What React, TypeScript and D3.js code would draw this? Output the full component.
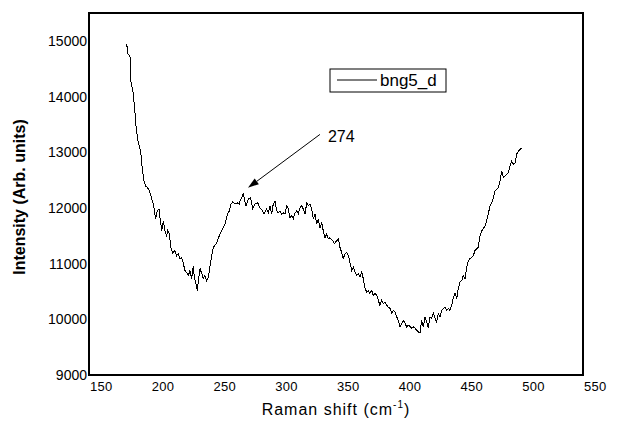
import React from 'react'
import * as d3 from 'd3'

// Raman spectrum
const ramanShift = [
  180.5, 181.6, 183.2, 184.0, 185.6, 187.0, 188.1, 189.7, 191.1, 191.9, 192.9, 194.5, 195.9, 197.0, 199.0,
  202.1, 204.0, 205.3, 206.7, 207.5, 208.9, 210.2, 211.5, 212.9, 213.7, 215.0, 216.4, 217.8, 219.6, 221.0,
  222.3, 223.7, 225.1, 226.4, 227.7, 229.1, 230.4, 231.8, 233.1, 234.5, 235.3, 236.6, 237.7, 238.8, 239.9,
  241.3, 242.6, 243.9, 245.3, 246.6, 248.0, 249.4, 250.6, 253.4, 256.1, 258.3, 260.1, 262.3, 263.6, 265.0,
  266.4, 268.2, 270.1, 271.7,
  272.3, 274.9, 277.1, 279.0, 280.9, 282.5, 284.4, 286.6, 288.5, 290.6, 291.7, 293.9, 295.2, 296.6, 297.9,
  299.2, 300.6, 302.0, 303.3, 304.7, 306.0, 307.3, 308.7, 310.1, 311.4, 312.7, 314.1, 315.4, 316.8, 318.2,
  319.5, 320.8, 322.2, 323.5, 324.9, 326.3, 327.6, 328.9, 330.3, 331.6, 333.0, 334.4, 335.7, 337.0, 338.4,
  339.7, 341.1, 342.5, 343.8, 345.1,
  347.3, 348.6, 350.6, 351.9, 353.2, 354.6, 355.9, 357.3, 358.7, 360.0, 361.3, 362.7, 364.0, 365.4, 366.8,
  368.1, 369.4, 370.8, 372.1, 373.5, 374.9, 376.2, 377.5, 378.9, 380.2, 381.6, 383.0, 384.3, 385.6, 387.0,
  388.3, 389.7, 391.1, 392.3, 393.7, 395.1, 396.4, 397.8, 399.2, 400.4, 401.8, 403.2, 404.5, 405.9, 407.2,
  408.5, 409.9, 411.3, 412.6, 414.0, 415.3, 416.6, 418.0,
  419.4, 420.7, 422.1, 423.4, 424.7, 426.1, 427.5, 428.8, 430.2, 431.5, 432.8, 434.2, 435.6, 436.9, 438.3,
  439.6, 440.9, 442.3, 443.7, 445.0, 446.4, 447.8, 449.0, 450.4, 451.8, 453.1, 454.5, 455.9, 457.1, 458.5,
  459.9, 461.2, 462.5, 463.9, 465.2, 466.6, 468.0, 469.3, 470.6, 472.0, 473.3, 474.7, 476.1, 477.4, 478.7,
  480.1, 481.4, 482.8, 484.2, 485.5, 486.8, 488.2, 489.5, 490.9, 492.3, 493.6, 494.9, 496.3, 497.6, 499.0,
  500.4,
]

const intensity = [
  14941, 14768, 14714, 14268, 14089, 13768, 13464, 13196, 13071, 13018, 12750, 12482, 12393, 12375, 12304,
  12066, 11804, 11946, 11982, 11821, 11589, 11768, 11589, 11500, 11589, 11536, 11286, 11196, 11232, 11143,
  11179, 11089, 11107, 11000, 10875, 10839, 10786, 10875, 10732, 10964, 10750, 10643, 10518, 10732, 10911,
  10821, 10732, 10786, 10696, 10750, 10964, 11143, 11286, 11375, 11536, 11625, 11714, 11893, 11946, 12071,
  12107, 12071, 12089, 12071,
  12125, 12250, 12036, 12161, 12179, 11982, 12071, 12089, 12000, 11946, 11893, 11982, 11911, 12036, 11893,
  12071, 12125, 11946, 11911, 11946, 11893, 11911, 11893, 12036, 11982, 11821, 11857, 11804, 11911, 11946,
  11893, 12000, 12036, 11982, 11893, 12089, 12036, 12071, 11982, 11804, 11893, 11714, 11804, 11643, 11732,
  11589, 11464, 11536, 11446, 11464,
  11411, 11357, 11411, 11446, 11291, 11202, 11089, 11179, 11202, 11143, 11023, 10875, 10934, 10845, 10786,
  10821, 10755, 10845, 10732, 10554, 10488, 10518, 10464, 10518, 10429, 10464, 10429, 10339, 10250, 10339,
  10286, 10309, 10250, 10220, 10196, 10107, 10161, 10130, 10041, 9982, 9863, 9929, 9982, 9929, 9863,
  9893, 9875, 9839, 9863, 9839, 9804, 9773, 9755,
  9982, 9863, 10041, 9952, 9839, 10041, 10018, 10107, 10018, 9952, 10107, 10041, 10161, 10196, 10220,
  10161, 10196, 10161, 10250, 10398, 10464, 10375, 10554, 10666, 10696, 10786, 10732, 10934, 11054, 11089,
  11112, 11143, 11232, 11268, 11291, 11500, 11589, 11625, 11679, 11768, 11893, 12036, 12095, 12184, 12304,
  12339, 12363, 12482, 12661, 12541, 12571, 12607, 12630, 12750, 12839, 12786, 12809, 12964, 13018, 13054,
  13071,
]

const xTicks = [150, 200, 250, 300, 350, 400, 450, 500, 550]
const yTicks = [9000, 10000, 11000, 12000, 13000, 14000, 15000]

const seriesName = 'bng5_d'
const peakLabel = '274'
const arrowFrom = [337.0, 13320]
const arrowTo = [278.7, 12360]
const peakLabelAt = [343.5, 13180]

const width = 617
const height = 424
const margin = { left: 89, right: 34, top: 13, bottom: 49 }
const font = 'Arial, "Liberation Sans", sans-serif'

export default function App() {
  const x = d3.scaleLinear().domain([150, 550]).range([margin.left, width - margin.right])
  const y = d3.scaleLinear().domain([9000, 15500]).range([height - margin.bottom, margin.top])

  const points: [number, number][] = ramanShift.map((v, i) => [v, intensity[i]])
  const line = d3.line<[number, number]>()
    .x(d => x(d[0]))
    .y(d => y(d[1]))

  const x0 = x(150)
  const x1 = x(550)
  const y0 = y(9000)
  const y1 = y(15500)

  // arrow from the label down to the peak
  const ax1 = x(arrowFrom[0]), ay1 = y(arrowFrom[1])
  const ax2 = x(arrowTo[0]), ay2 = y(arrowTo[1])
  const ang = Math.atan2(ay2 - ay1, ax2 - ax1)
  const headLen = 11
  const headW = 3.5
  const bx = ax2 - headLen * Math.cos(ang)
  const by = ay2 - headLen * Math.sin(ang)
  const head = [
    [ax2, ay2],
    [bx + headW * Math.sin(ang), by - headW * Math.cos(ang)],
    [bx - headW * Math.sin(ang), by + headW * Math.cos(ang)],
  ]

  const lx = x0 + 241
  const ly = y1 + 56

  return (
    <svg width={width} height={height} style={{ position: 'absolute', left: 0, top: 0, background: '#fff' }}>
      <rect x={0} y={0} width={width} height={height} fill="#fff" />

      <path d={line(points) ?? ''} fill="none" stroke="#000" strokeWidth={1} shapeRendering="crispEdges" />

      <rect x={x0} y={y1} width={x1 - x0} height={y0 - y1} fill="none" stroke="#000" strokeWidth={2} />

      {xTicks.map(t => (
        <text key={t} x={x(t) + 1} y={y0 + 16} fontFamily={font} fontSize={13} letterSpacing={0.3}
          textAnchor="start" fill="#000">{t}</text>
      ))}
      {yTicks.map(t => (
        <text key={t} x={x0 - 2} y={y(t)} dy="0.36em" fontFamily={font} fontSize={14}
          textAnchor="end" fill="#000">{t}</text>
      ))}

      <text x={(x0 + x1) / 2} y={y0 + 40} fontFamily={font} fontSize={16} letterSpacing={1}
        textAnchor="middle" fill="#000">
        Raman shift (cm<tspan fontSize={10} dy={-7}>-1</tspan><tspan dy={7}>)</tspan>
      </text>
      <text transform={`translate(25,${(y0 + y1) / 2 + 3}) rotate(-90)`} fontFamily={font} fontSize={16}
        fontWeight="bold" textAnchor="middle" fill="#000">Intensity (Arb. units)</text>

      <g>
        <rect x={lx} y={ly} width={116} height={23} fill="#fff" stroke="#000" strokeWidth={1} />
        <line x1={lx + 7} x2={lx + 47} y1={ly + 11} y2={ly + 11} stroke="#000" strokeWidth={1} />
        <text x={lx + 50} y={ly + 17} fontFamily={font} fontSize={17} fill="#000">{seriesName}</text>
      </g>

      <line x1={ax1} y1={ay1} x2={bx} y2={by} stroke="#000" strokeWidth={1} />
      <polygon points={head.map(p => p.join(',')).join(' ')} fill="#000" />
      <text x={x(peakLabelAt[0])} y={y(peakLabelAt[1])} fontFamily={font} fontSize={16} fill="#000">{peakLabel}</text>
    </svg>
  )
}
